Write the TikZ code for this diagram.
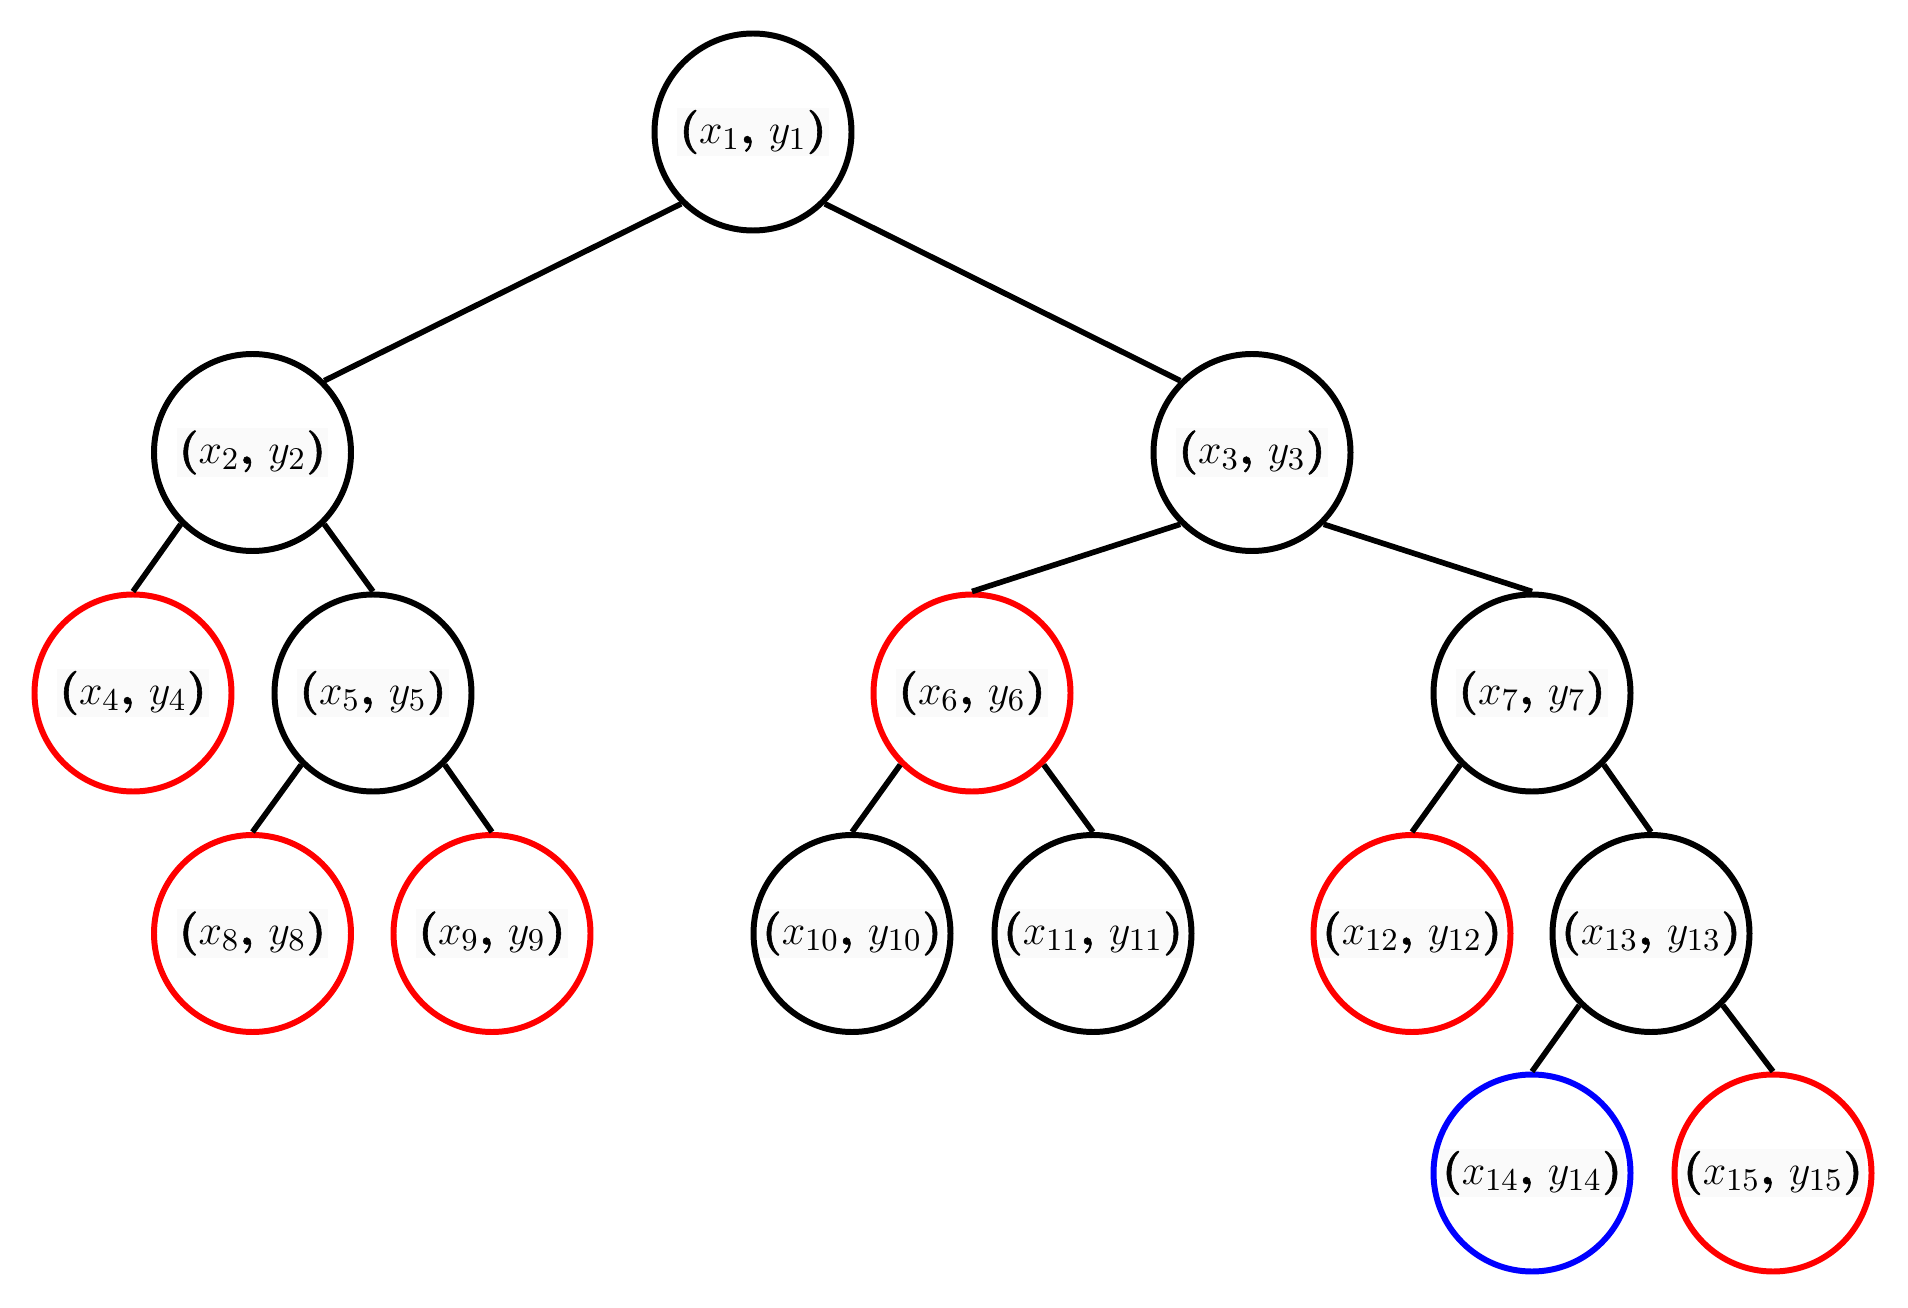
\documentclass[tikz,border=0pt]{standalone}
\usepackage{amsmath}
\usepackage{fontspec}
\usepackage{tikz}
\usetikzlibrary{calc}
\newfontfamily\parfont{lmroman10-bold.otf}[FakeBold=1.3]
\tikzset{
  pnt/.style={circle, draw=black, line width=1.7pt, minimum size=1.97cm, inner sep=0pt, font=\fontsize{12.5}{15}\selectfont},
  redpnt/.style={pnt, draw=red},
  bluepnt/.style={pnt, draw=blue},
  edge/.style={line width=1.6pt}
}
\definecolor{labelbg}{RGB}{250,250,250}
\setlength{\fboxsep}{0.6pt}
\newcommand{\pxy}[1]{\colorbox{labelbg}{{\parfont(}$x_{#1}${\parfont,} $y_{#1}${\parfont)}}}

\begin{document}
\begin{tikzpicture}
    \useasboundingbox (0,0) rectangle (19.08,-13.08);

    \node[pnt] (P1) at (7.53,-1.32) {\pxy{1}};

    \node[pnt] (P2) at (2.525,-4.525) {\pxy{2}};
    \node[pnt] (P3) at (12.52,-4.525) {\pxy{3}};

    \node[redpnt] (P4) at (1.33,-6.93) {\pxy{4}};
    \node[pnt] (P5) at (3.73,-6.93) {\pxy{5}};
    \node[redpnt] (P6) at (9.72,-6.93) {\pxy{6}};
    \node[pnt] (P7) at (15.32,-6.93) {\pxy{7}};

    \node[redpnt] (P8) at (2.525,-9.335) {\pxy{8}};
    \node[redpnt] (P9) at (4.92,-9.335) {\pxy{9}};
    \node[pnt] (P10) at (8.52,-9.335) {\pxy{10}};
    \node[pnt] (P11) at (10.93,-9.335) {\pxy{11}};
    \node[redpnt] (P12) at (14.12,-9.335) {\pxy{12}};
    \node[pnt] (P13) at (16.51,-9.335) {\pxy{13}};

    \node[bluepnt] (P14) at (15.32,-11.73) {\pxy{14}};
    \node[redpnt] (P15) at (17.73,-11.73) {\pxy{15}};

    \draw[edge] (P1.south west) -- (P2.north east);
    \draw[edge] (P1.south east) -- (P3.north west);

    \draw[edge] (P2.south west) -- (P4.north);
    \draw[edge] (P2.south east) -- (P5.north);
    \draw[edge] (P3.south west) -- (P6.north);
    \draw[edge] (P3.south east) -- (P7.north);

    \draw[edge] (P5.south west) -- (P8.north);
    \draw[edge] (P5.south east) -- (P9.north);
    \draw[edge] (P6.south west) -- (P10.north);
    \draw[edge] (P6.south east) -- (P11.north);
    \draw[edge] (P7.south west) -- (P12.north);
    \draw[edge] (P7.south east) -- (P13.north);

    \draw[edge] (P13.south west) -- (P14.north);
    \draw[edge] (P13.south east) -- (P15.north);

  \end{tikzpicture}
\end{document}
